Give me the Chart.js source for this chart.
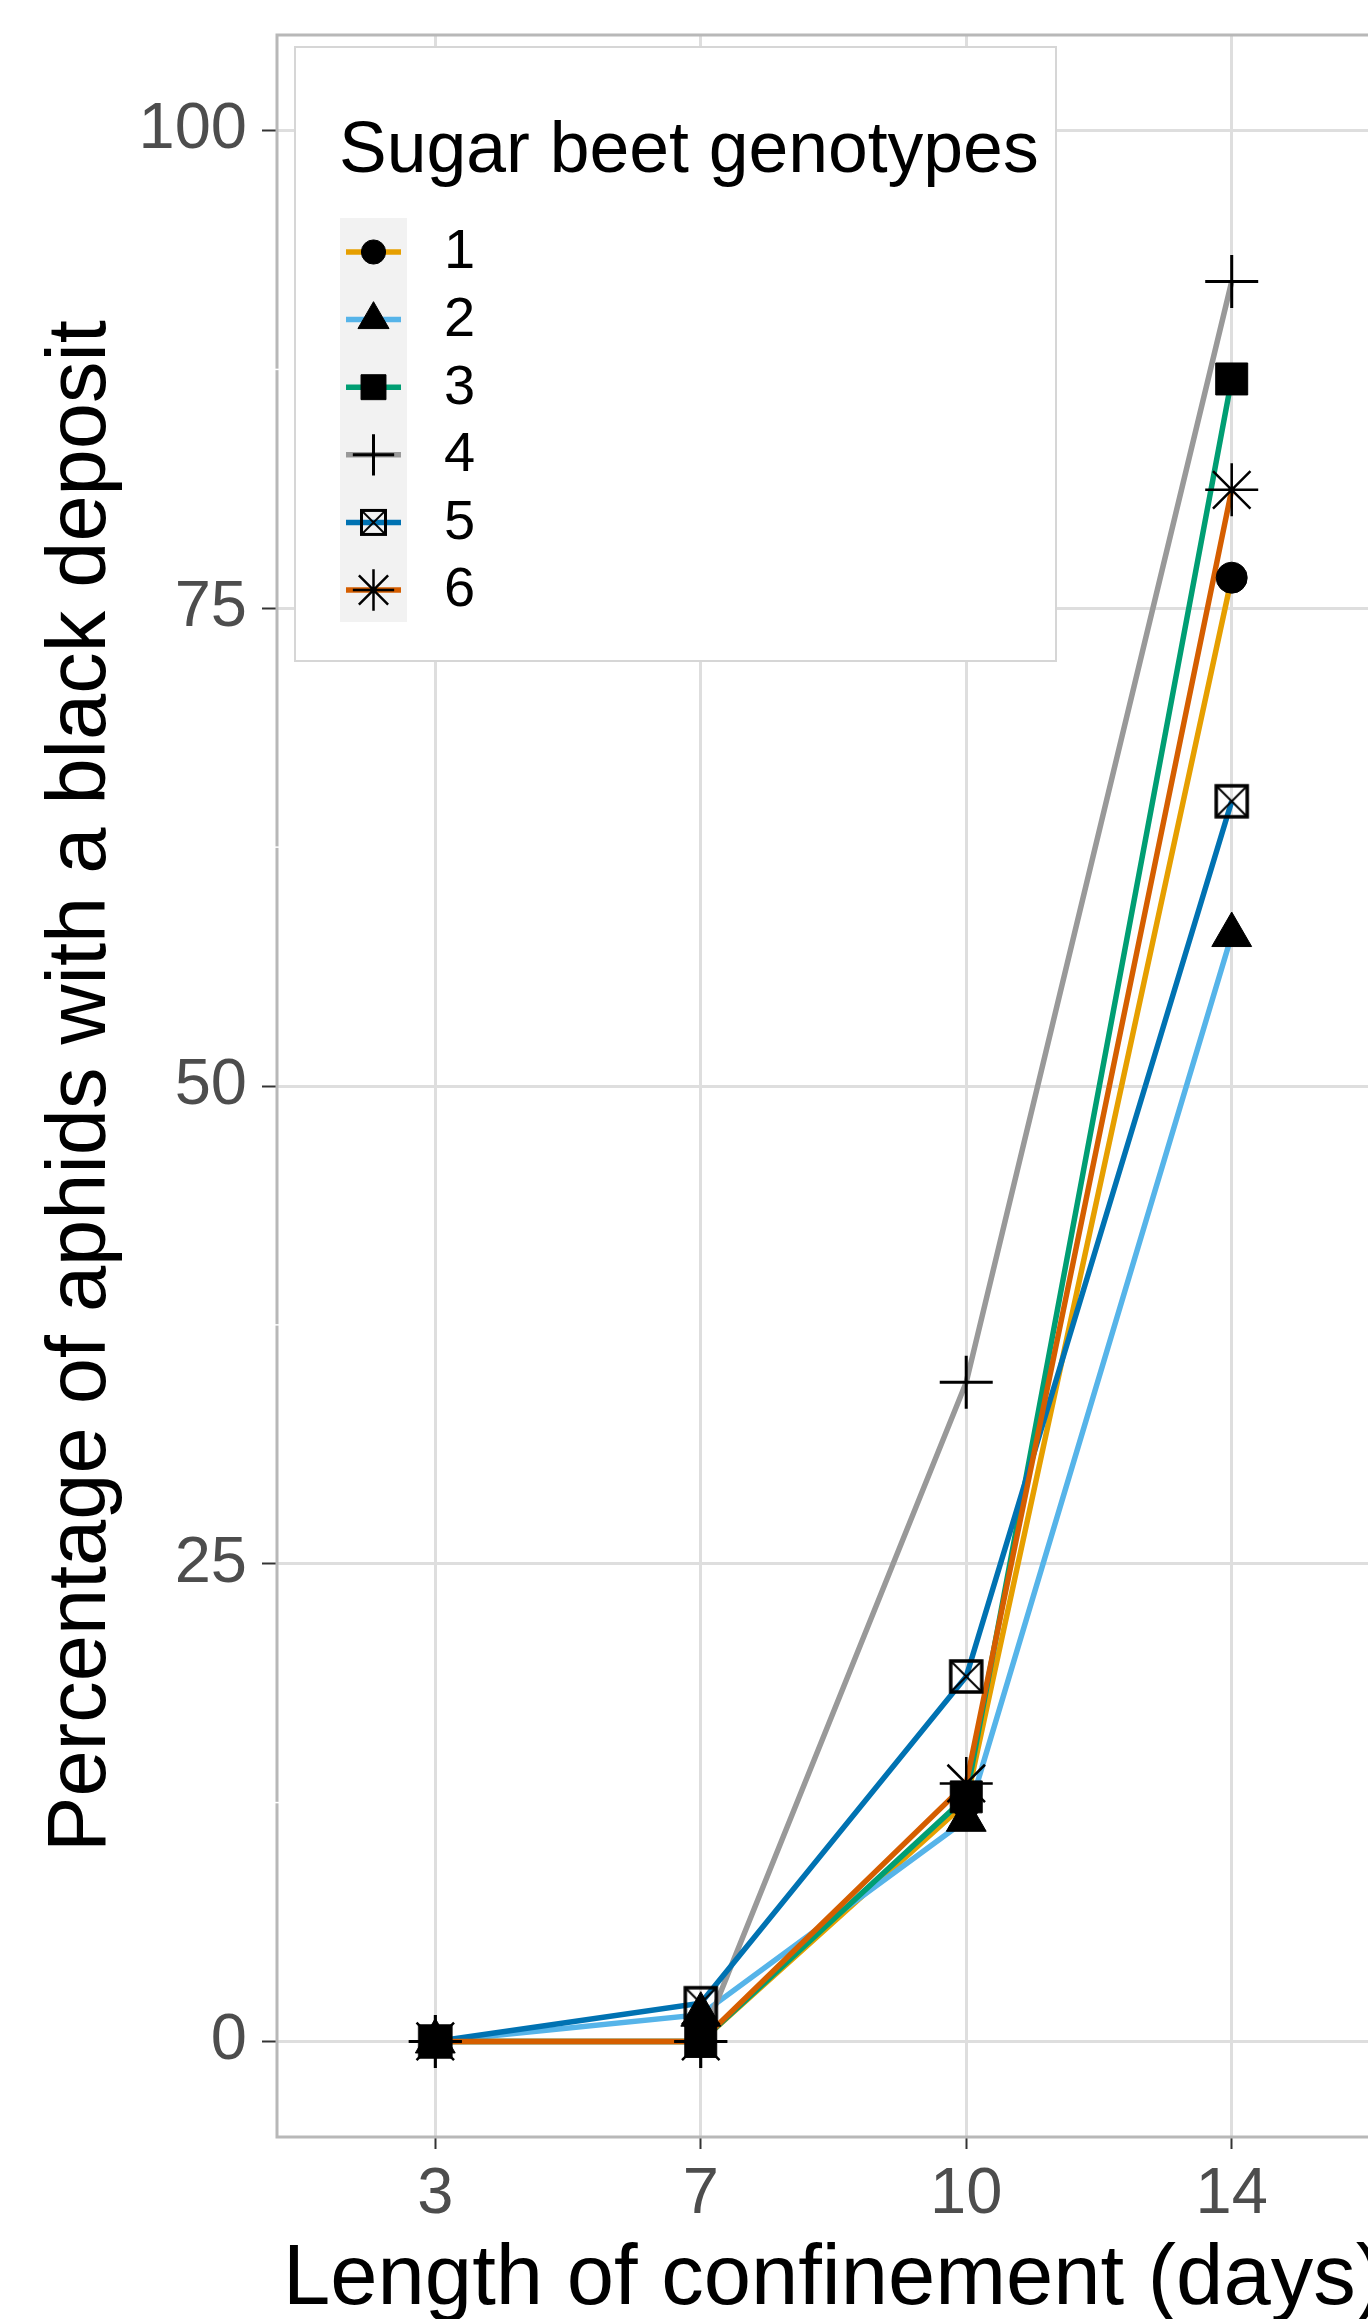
<!DOCTYPE html>
<html>
<head>
<meta charset="utf-8">
<script src="https://cdn.jsdelivr.net/npm/chart.js@4/dist/chart.umd.min.js"></script>
<style>
html, body { margin: 0; padding: 0; background: #ffffff; overflow: hidden; }
#wrap { width: 1368px; height: 2319px; overflow: hidden; position: relative; }
#c { position: absolute; left: 0; top: 0; }
</style>
</head>
<body>
<div id="wrap"><canvas id="c" width="1393" height="2319" style="width:1393px;height:2319px"></canvas></div>
<script>
// ---- data ----
const days = ['3', '7', '10', '14'];
const genotypes = ['1', '2', '3', '4', '5', '6'];
const g1 = [0, 0, 12.5, 76.6];
const g2 = [0, 1.4, 11.6, 57.9];
const g3 = [0, 0, 12.8, 87.0];
const g4 = [0, 0, 34.5, 92.1];
const g5 = [0, 2.0, 19.1, 64.9];
const g6 = [0, 0, 13.5, 81.2];
const yTicks = [0, 25, 50, 75, 100];
const yMinor = [12.5, 37.5, 62.5, 87.5];
const seriesValues = [g1, g2, g3, g4, g5, g6];

// ---- styles ----
const FONT = "'Liberation Sans', Arial, sans-serif";
const lineColors = ['#E69F00', '#56B4E9', '#009E73', '#999999', '#0072B2', '#D55E00'];

function makeBoxX(side, borderW, crossW) {
  const size = Math.ceil(side + borderW + 2);
  const cv = document.createElement('canvas');
  cv.width = size; cv.height = size;
  const c = cv.getContext('2d');
  const o = (size - side) / 2;
  c.strokeStyle = '#000';
  c.lineWidth = crossW;
  c.beginPath();
  c.moveTo(o, o); c.lineTo(o + side, o + side);
  c.moveTo(o + side, o); c.lineTo(o, o + side);
  c.stroke();
  c.lineWidth = borderW;
  c.strokeRect(o, o, side, side);
  return cv;
}
const boxX = makeBoxX(31, 3.5, 2);
const boxXLegend = makeBoxX(24, 3, 1.8);

const markers = [
  { style: 'circle',   radius: 15.5, bw: 1 },
  { style: 'triangle', radius: 23,   bw: 1 },
  { style: 'rect',     radius: 22.6, bw: 1 },
  { style: 'cross',    radius: 26.5, bw: 3 },
  { style: boxX,       radius: 17,   bw: 0 },
  { style: 'star',     radius: 26.5, bw: 2.5 }
];

const datasets = [];
seriesValues.forEach((vals, i) => {
  const pts = vals.map((v, j) => ({ x: j + 1, y: v }));
  datasets.push({
    label: genotypes[i], data: pts, borderColor: lineColors[i], backgroundColor: lineColors[i],
    borderWidth: 5.5, pointRadius: 0, fill: false, tension: 0, order: 20 - i
  });
  datasets.push({
    label: genotypes[i] + ' points', data: pts, showLine: false,
    pointStyle: markers[i].style, pointRadius: markers[i].radius,
    pointBackgroundColor: '#000', pointBorderColor: '#000', pointBorderWidth: markers[i].bw,
    order: 10 - i
  });
});

// ---- panel border + white minor lines ----
const panelPlugin = {
  id: 'panel',
  beforeDatasetsDraw(chart) {
    const { ctx, chartArea: a, scales } = chart;
    ctx.save();
    ctx.strokeStyle = '#b8b8b8';
    ctx.lineWidth = 3;
    ctx.strokeRect(a.left + 1, a.top, a.right - a.left, a.bottom - a.top);
    ctx.strokeStyle = '#ffffff';
    ctx.lineWidth = 1.5;
    yMinor.forEach(v => {
      const y = scales.y.getPixelForValue(v);
      ctx.beginPath(); ctx.moveTo(a.left - 1, y); ctx.lineTo(a.left + 4, y); ctx.stroke();
    });
    ctx.restore();
  }
};

// ---- legend ----
function drawMarker(ctx, style, r, bw, x, y) {
  ctx.save();
  ctx.fillStyle = '#000'; ctx.strokeStyle = '#000'; ctx.lineWidth = bw;
  if (typeof style === 'object') {
    ctx.drawImage(style, x - style.width / 2, y - style.height / 2);
    ctx.restore(); return;
  }
  ctx.beginPath();
  if (style === 'circle') {
    ctx.arc(x, y, r, 0, Math.PI * 2); ctx.fill(); ctx.stroke();
  } else if (style === 'triangle') {
    for (let k = 0; k < 3; k++) {
      const a = k * 2 * Math.PI / 3;
      const px = x + Math.sin(a) * r, py = y - Math.cos(a) * r;
      if (k === 0) ctx.moveTo(px, py); else ctx.lineTo(px, py);
    }
    ctx.closePath(); ctx.fill(); ctx.stroke();
  } else if (style === 'rect') {
    const s = Math.SQRT1_2 * r;
    ctx.rect(x - s, y - s, 2 * s, 2 * s); ctx.fill(); ctx.stroke();
  } else if (style === 'cross' || style === 'star') {
    ctx.moveTo(x - r, y); ctx.lineTo(x + r, y);
    ctx.moveTo(x, y - r); ctx.lineTo(x, y + r);
    if (style === 'star') {
      const d = r * Math.SQRT1_2;
      ctx.moveTo(x - d, y - d); ctx.lineTo(x + d, y + d);
      ctx.moveTo(x + d, y - d); ctx.lineTo(x - d, y + d);
    }
    ctx.stroke();
  }
  ctx.restore();
}

const legendPlugin = {
  id: 'ggLegend',
  afterDraw(chart) {
    const ctx = chart.ctx;
    ctx.save();
    ctx.fillStyle = '#ffffff';
    ctx.fillRect(295, 47, 761, 614);
    ctx.strokeStyle = '#d6d6d6';
    ctx.lineWidth = 2;
    ctx.strokeRect(295, 47, 761, 614);
    ctx.fillStyle = '#000000';
    ctx.font = '71.5px ' + FONT;
    ctx.textAlign = 'left';
    ctx.textBaseline = 'alphabetic';
    ctx.fillText('Sugar beet genotypes', 339, 172);
    ctx.fillStyle = '#f2f2f2';
    ctx.fillRect(340, 218, 67, 404);
    const sc = 0.78;
    genotypes.forEach((g, i) => {
      const cy = 252 + i * 67.6;
      ctx.strokeStyle = lineColors[i];
      ctx.lineWidth = 5.5;
      ctx.beginPath(); ctx.moveTo(346, cy); ctx.lineTo(401, cy); ctx.stroke();
      const m = markers[i];
      const st = (typeof m.style === 'object') ? boxXLegend : m.style;
      drawMarker(ctx, st, m.radius * sc, m.bw, 373.5, cy);
      ctx.fillStyle = '#000000';
      ctx.font = '56px ' + FONT;
      ctx.textBaseline = 'middle';
      ctx.fillText(g, 444, cy + 1);
    });
    ctx.restore();
  }
};

new Chart(document.getElementById('c'), {
  type: 'line',
  data: { datasets },
  plugins: [panelPlugin, legendPlugin],
  options: {
    responsive: false,
    maintainAspectRatio: false,
    devicePixelRatio: 1,
    animation: false,
    events: [],
    layout: { autoPadding: false, padding: { top: 35, right: 2, left: 0, bottom: 0 } },
    plugins: { legend: { display: false }, tooltip: { enabled: false } },
    scales: {
      x: {
        type: 'linear',
        min: 0.4, max: 4.6,
        afterBuildTicks: s => { s.ticks = days.map((d, i) => ({ value: i + 1 })); },
        afterFit: s => { s.height = 182; s.paddingLeft = 0; s.paddingRight = 0; },
        ticks: {
          callback: v => days[v - 1],
          font: { family: FONT, size: 65 },
          color: '#4d4d4d',
          padding: 7,
          maxRotation: 0, autoSkip: false
        },
        grid: { color: '#dedede', lineWidth: 3, tickColor: '#333333', tickWidth: 2, tickLength: 12 },
        border: { display: false },
        title: {
          display: true, text: 'Length of confinement (days)',
          font: { family: FONT, size: 85, lineHeight: 0.9 }, color: '#000000',
          padding: { top: 0, bottom: 0 }
        }
      },
      y: {
        type: 'linear',
        min: -5, max: 105,
        afterBuildTicks: s => { s.ticks = yTicks.map(v => ({ value: v })); },
        afterFit: s => { s.width = 276; s.paddingTop = 0; s.paddingBottom = 0; },
        ticks: {
          font: { family: FONT, size: 65 },
          color: '#4d4d4d',
          padding: 15
        },
        grid: { color: '#dedede', lineWidth: 3, tickColor: '#333333', tickWidth: 2, tickLength: 14 },
        border: { display: false },
        title: {
          display: true, text: 'Percentage of aphids with a black deposit',
          font: { family: FONT, size: 83, lineHeight: 1.0 }, color: '#000000',
          padding: { top: 41, bottom: 0 }
        }
      }
    }
  }
});
</script>
</body>
</html>
